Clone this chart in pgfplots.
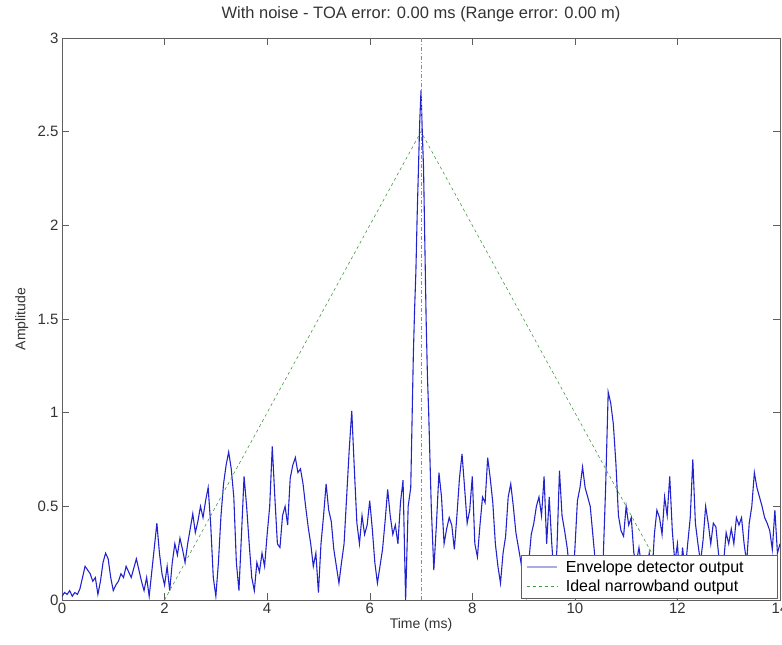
\documentclass[border=0pt]{standalone}
\usepackage{fontspec}
\setmainfont{Liberation Sans}
\usepackage{pgfplots}
\pgfplotsset{compat=1.18}

\definecolor{envblue}{RGB}{35,35,205}
\definecolor{envlight}{RGB}{170,170,230}
\definecolor{idealgreen}{RGB}{70,155,70}
\definecolor{toamag}{RGB}{215,90,200}
\definecolor{axgray}{RGB}{95,95,95}

\pgfplotstableread{
t a
0.00 0.02
0.05 0.04
0.10 0.03
0.15 0.05
0.20 0.02
0.25 0.04
0.30 0.03
0.35 0.06
0.40 0.12
0.45 0.18
0.50 0.16
0.55 0.14
0.60 0.10
0.65 0.12
0.70 0.03
0.75 0.10
0.80 0.20
0.85 0.25
0.90 0.22
0.95 0.12
1.00 0.05
1.05 0.08
1.10 0.10
1.15 0.14
1.20 0.12
1.25 0.18
1.30 0.15
1.35 0.12
1.40 0.17
1.45 0.22
1.50 0.16
1.55 0.10
1.60 0.05
1.65 0.12
1.70 0.02
1.75 0.15
1.80 0.28
1.85 0.41
1.90 0.25
1.95 0.14
2.00 0.08
2.05 0.18
2.10 0.05
2.15 0.20
2.20 0.30
2.25 0.24
2.30 0.33
2.35 0.27
2.40 0.20
2.45 0.30
2.50 0.38
2.55 0.46
2.60 0.36
2.65 0.42
2.70 0.50
2.75 0.44
2.80 0.53
2.85 0.60
2.90 0.40
2.95 0.12
3.00 0.02
3.05 0.20
3.10 0.45
3.15 0.62
3.20 0.72
3.25 0.79
3.30 0.70
3.35 0.55
3.40 0.20
3.45 0.05
3.50 0.35
3.55 0.66
3.60 0.50
3.65 0.30
3.70 0.12
3.75 0.05
3.80 0.20
3.85 0.15
3.90 0.25
3.95 0.18
4.00 0.35
4.05 0.50
4.10 0.82
4.15 0.55
4.20 0.30
4.25 0.28
4.30 0.45
4.35 0.50
4.40 0.40
4.45 0.65
4.50 0.72
4.55 0.76
4.60 0.68
4.65 0.70
4.70 0.62
4.75 0.50
4.80 0.39
4.85 0.30
4.90 0.18
4.95 0.25
5.00 0.04
5.05 0.30
5.10 0.45
5.15 0.62
5.20 0.48
5.25 0.42
5.30 0.27
5.35 0.18
5.40 0.09
5.45 0.20
5.50 0.30
5.55 0.55
5.60 0.80
5.65 1.01
5.70 0.70
5.75 0.41
5.80 0.30
5.85 0.45
5.90 0.35
5.95 0.40
6.00 0.53
6.05 0.38
6.10 0.20
6.15 0.09
6.20 0.18
6.25 0.27
6.30 0.42
6.35 0.59
6.40 0.45
6.45 0.35
6.50 0.40
6.55 0.30
6.60 0.52
6.65 0.64
6.70 0.00
6.75 0.50
6.80 0.60
6.825 0.95
6.85 1.30
6.875 1.55
6.90 1.75
6.925 2.05
6.95 2.30
6.975 2.55
7.00 2.72
7.025 2.50
7.05 2.30
7.075 1.90
7.10 1.50
7.125 1.20
7.15 1.00
7.20 0.50
7.25 0.16
7.30 0.40
7.35 0.68
7.40 0.55
7.45 0.30
7.50 0.38
7.55 0.44
7.60 0.40
7.65 0.27
7.70 0.45
7.75 0.65
7.80 0.78
7.85 0.60
7.90 0.41
7.95 0.48
8.00 0.66
8.05 0.30
8.10 0.23
8.15 0.40
8.20 0.55
8.25 0.52
8.30 0.76
8.35 0.65
8.40 0.52
8.45 0.30
8.50 0.18
8.55 0.09
8.60 0.25
8.65 0.34
8.70 0.55
8.75 0.62
8.80 0.50
8.85 0.36
8.90 0.28
8.95 0.20
9.00 0.10
9.05 0.02
9.10 0.20
9.15 0.35
9.20 0.41
9.25 0.50
9.30 0.55
9.35 0.45
9.40 0.66
9.45 0.30
9.50 0.55
9.55 0.30
9.60 0.10
9.65 0.27
9.70 0.69
9.75 0.45
9.80 0.37
9.85 0.28
9.90 0.15
9.95 0.05
10.00 0.27
10.05 0.53
10.10 0.60
10.15 0.71
10.20 0.60
10.25 0.55
10.30 0.50
10.35 0.35
10.40 0.20
10.45 0.08
10.50 0.05
10.55 0.20
10.60 0.60
10.65 1.11
10.70 1.05
10.75 0.94
10.80 0.73
10.85 0.45
10.90 0.37
10.95 0.34
11.00 0.50
11.05 0.40
11.10 0.44
11.15 0.25
11.20 0.20
11.25 0.28
11.30 0.18
11.35 0.22
11.40 0.15
11.45 0.25
11.50 0.10
11.55 0.35
11.60 0.48
11.65 0.44
11.70 0.35
11.75 0.55
11.80 0.45
11.85 0.66
11.90 0.37
11.95 0.20
12.00 0.30
12.05 0.10
12.10 0.28
12.15 0.15
12.20 0.30
12.25 0.44
12.30 0.75
12.35 0.41
12.40 0.30
12.45 0.20
12.50 0.32
12.55 0.50
12.60 0.41
12.65 0.30
12.70 0.41
12.75 0.39
12.80 0.25
12.85 0.15
12.90 0.20
12.95 0.36
13.00 0.30
13.05 0.38
13.10 0.30
13.15 0.44
13.20 0.40
13.25 0.44
13.30 0.30
13.35 0.20
13.40 0.41
13.45 0.50
13.50 0.68
13.55 0.60
13.60 0.55
13.65 0.50
13.70 0.44
13.75 0.41
13.80 0.37
13.85 0.27
13.90 0.48
13.95 0.25
14.00 0.30
}\envelope

\begin{document}
\begin{tikzpicture}
\path[use as bounding box] (-62bp,-45bp) rectangle (720bp,600bp);
\begin{axis}[
  scale only axis,
  width=718bp, height=562bp,
  xmin=0, xmax=14, ymin=0, ymax=3,
  xtick={0,2,...,14},
  ytick={0,0.5,1,1.5,2,2.5,3},
  tick align=inside,
  major tick length=7bp,
  axis line style={axgray},
  every tick/.style={axgray},
  tick label style={font=\fontsize{15bp}{18bp}\selectfont, text=black!80},
  /pgf/number format/assume math mode=true,
  title={With noise - TOA error: 0.00 ms (Range error: 0.00 m)},
  title style={font=\fontsize{16.5bp}{19bp}\selectfont, text=black!80,
               at={(axis description cs:0.5,1)}, anchor=south, yshift=7bp},
  xlabel={Time (ms)},
  xlabel style={font=\fontsize{14bp}{17bp}\selectfont, text=black!80,
                at={(axis description cs:0.5,-0.045)}, anchor=center},
  ylabel={Amplitude},
  ylabel style={font=\fontsize{14bp}{17bp}\selectfont, text=black!80,
                at={(axis description cs:-0.056,0.5)}, anchor=center},
  legend style={at={(axis description cs:1,0)}, anchor=south east,
                xshift=-3bp, yshift=2bp, draw=axgray, fill=white,
                font=\fontsize{16bp}{19bp}\selectfont,
                row sep=2bp, inner xsep=4bp, inner ysep=3bp},
  legend cell align=left,
  legend image code/.code={\draw[#1] (0bp,0bp) -- (30bp,0bp);},
]
\addplot[envblue, line width=1.1pt,
  legend image code/.code={\draw[envlight, line width=2.2pt] (0bp,0bp) -- (30bp,0bp);}]
  table[x=t, y=a] {\envelope};
\addlegendentry{\hspace*{6bp}\makebox[205bp][l]{Envelope detector output}}
\addplot[idealgreen, dashed, line width=0.6pt] coordinates {(2,0) (7,2.5) (12,0)};
\addlegendentry{\hspace*{6bp}\makebox[205bp][l]{Ideal narrowband output}}
\addplot[toamag, dash pattern=on 4bp off 2bp on 1bp off 2bp, line width=0.6pt, forget plot]
  coordinates {(7,0) (7,3)};
\end{axis}
\end{tikzpicture}
\end{document}
